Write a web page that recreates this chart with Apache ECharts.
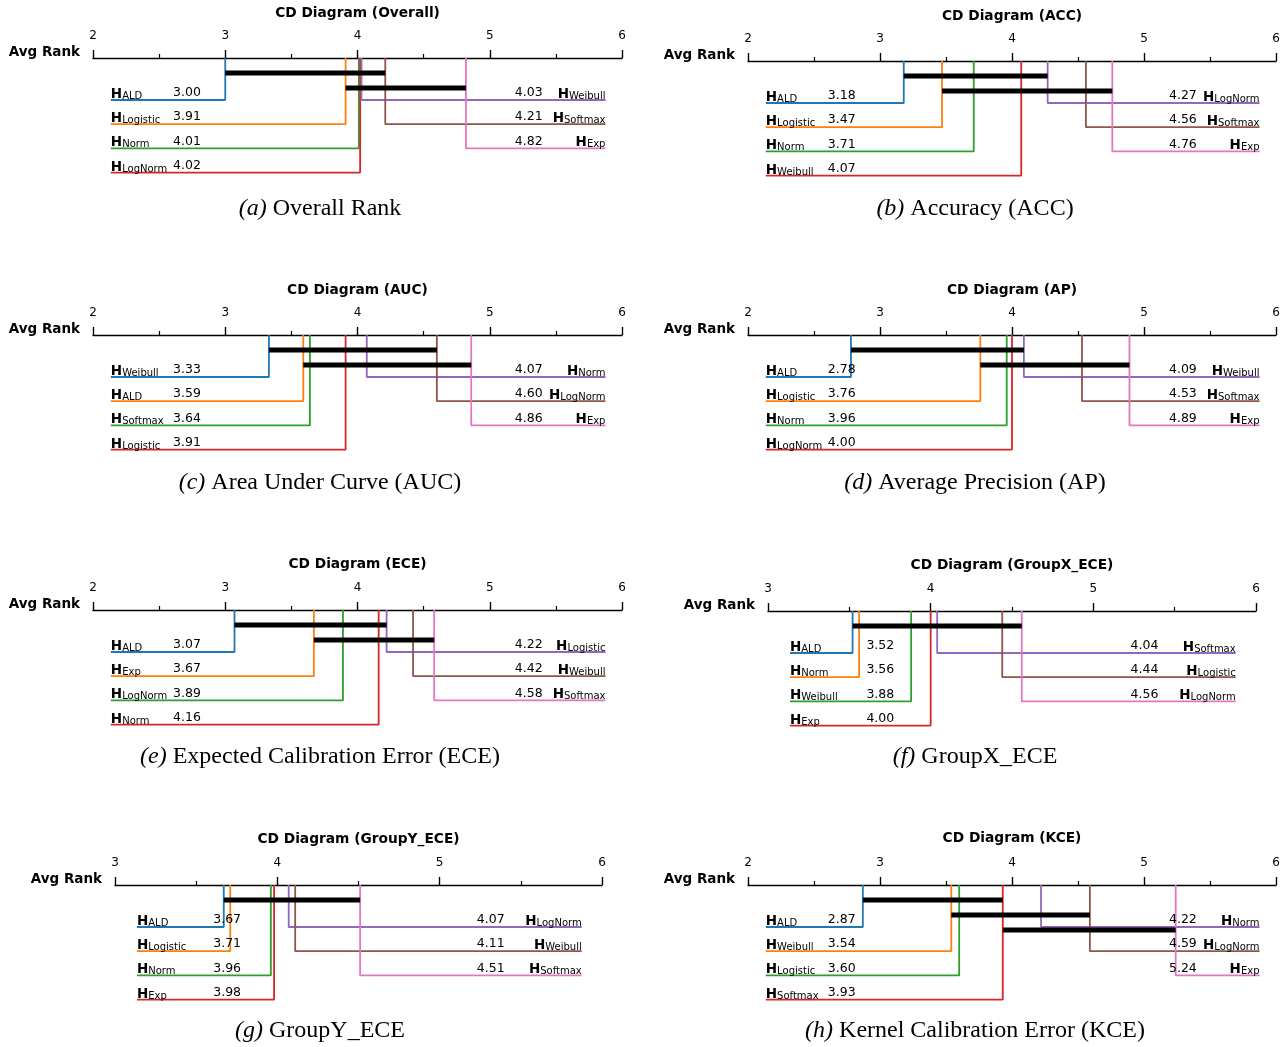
<!DOCTYPE html>
<html>
<head>
<meta charset="utf-8">
<title>CD Diagrams</title>
<script src="https://cdn.jsdelivr.net/npm/echarts@6/dist/echarts.min.js"></script>
<style>
html,body{margin:0;padding:0;background:#fff;}
#main{width:1288px;height:1047px;}
</style>
</head>
<body>
<div id="main"></div>
<script>
// average ranks, sorted ascending; cliques are [first, last] indexes into the sorted list
var overallNames = ['ALD','Logistic','Norm','LogNorm','Weibull','Softmax','Exp'];
var overallRanks = [3.00, 3.91, 4.01, 4.02, 4.03, 4.21, 4.82];
var overallCliques = [[0,5],[1,6]];

var accNames = ['ALD','Logistic','Norm','Weibull','LogNorm','Softmax','Exp'];
var accRanks = [3.18, 3.47, 3.71, 4.07, 4.27, 4.56, 4.76];
var accCliques = [[0,4],[1,6]];

var aucNames = ['Weibull','ALD','Softmax','Logistic','Norm','LogNorm','Exp'];
var aucRanks = [3.33, 3.59, 3.64, 3.91, 4.07, 4.60, 4.86];
var aucCliques = [[0,5],[1,6]];

var apNames = ['ALD','Logistic','Norm','LogNorm','Weibull','Softmax','Exp'];
var apRanks = [2.78, 3.76, 3.96, 4.00, 4.09, 4.53, 4.89];
var apCliques = [[0,4],[1,6]];

var eceNames = ['ALD','Exp','LogNorm','Norm','Logistic','Weibull','Softmax'];
var eceRanks = [3.07, 3.67, 3.89, 4.16, 4.22, 4.42, 4.58];
var eceCliques = [[0,4],[1,6]];

var gxNames = ['ALD','Norm','Weibull','Exp','Softmax','Logistic','LogNorm'];
var gxRanks = [3.52, 3.56, 3.88, 4.00, 4.04, 4.44, 4.56];
var gxCliques = [[0,6]];

var gyNames = ['ALD','Logistic','Norm','Exp','LogNorm','Weibull','Softmax'];
var gyRanks = [3.67, 3.71, 3.96, 3.98, 4.07, 4.11, 4.51];
var gyCliques = [[0,6]];

var kceNames = ['ALD','Weibull','Logistic','Softmax','Norm','LogNorm','Exp'];
var kceRanks = [2.87, 3.54, 3.60, 3.93, 4.22, 4.59, 5.24];
var kceCliques = [[0,3],[1,5],[3,6]];

var axisMins = [2, 2, 2, 2, 2, 3, 3, 2];
var axisMax = 6;
var titles = ['Overall','ACC','AUC','AP','ECE','GroupX_ECE','GroupY_ECE','KCE'];
var captionTags = ['(a)','(b)','(c)','(d)','(e)','(f)','(g)','(h)'];
var captionTexts = ['Overall Rank','Accuracy (ACC)','Area Under Curve (AUC)','Average Precision (AP)',
  'Expected Calibration Error (ECE)','GroupX_ECE','GroupY_ECE','Kernel Calibration Error (KCE)'];

var panels = [
  {names: overallNames, ranks: overallRanks, cliques: overallCliques},
  {names: accNames, ranks: accRanks, cliques: accCliques},
  {names: aucNames, ranks: aucRanks, cliques: aucCliques},
  {names: apNames, ranks: apRanks, cliques: apCliques},
  {names: eceNames, ranks: eceRanks, cliques: eceCliques},
  {names: gxNames, ranks: gxRanks, cliques: gxCliques},
  {names: gyNames, ranks: gyRanks, cliques: gyCliques},
  {names: kceNames, ranks: kceRanks, cliques: kceCliques}
];

// layout: axis pixel span, axis line y, title y, caption center
var layout = [
  {x0: 93,  x1: 622,  ay: 58,  ty: 13,  cx: 320, cy: 209},
  {x0: 748, x1: 1276, ay: 61,  ty: 16,  cx: 975, cy: 209},
  {x0: 93,  x1: 622,  ay: 335, ty: 290, cx: 320, cy: 483},
  {x0: 748, x1: 1276, ay: 335, ty: 290, cx: 975, cy: 483},
  {x0: 93,  x1: 622,  ay: 610, ty: 564, cx: 320, cy: 757},
  {x0: 768, x1: 1256, ay: 611, ty: 565, cx: 975, cy: 757},
  {x0: 115, x1: 602,  ay: 885, ty: 839, cx: 320, cy: 1031},
  {x0: 748, x1: 1276, ay: 885, ty: 838, cx: 975, cy: 1031}
];

var colors = ['#1f77b4','#ff7f0e','#2ca02c','#d62728','#9467bd','#8c564b','#e377c2'];
var FONT = '"DejaVu Sans", sans-serif';
var SERIF = '"Liberation Serif", "DejaVu Serif", serif';

var grids = [], xAxes = [], yAxes = [], series = [], graphics = [];

var nameRich = {
  h: {fontFamily: FONT, fontWeight: 'bold', fontSize: 13.5, color: '#000', lineHeight: 17, verticalAlign: 'bottom'},
  s: {fontFamily: FONT, fontSize: 10, color: '#000', lineHeight: 10, verticalAlign: 'bottom'}
};

panels.forEach(function (p, k) {
  var L = layout[k];
  var mn = axisMins[k];
  grids.push({left: L.x0, width: L.x1 - L.x0, top: L.ay, height: 130});
  xAxes.push({
    gridIndex: k, type: 'value', position: 'top', min: mn, max: axisMax, interval: 1,
    axisLine: {lineStyle: {color: '#000', width: 1.4}},
    axisTick: {length: 8, lineStyle: {color: '#000', width: 1.4}},
    minorTick: {show: true, splitNumber: 2, length: 4, lineStyle: {color: '#000', width: 1.2}},
    splitLine: {show: false},
    axisLabel: {margin: 16, fontFamily: FONT, fontSize: 12, color: '#000'}
  });
  yAxes.push({gridIndex: k, type: 'value', min: 0, max: 130, inverse: true, show: false});

  var n = p.ranks.length;
  var nLeft = Math.ceil(n / 2);
  var leftEnd = mn + 0.135, rightEnd = axisMax - 0.125;
  var labels = [];
  p.ranks.forEach(function (r, i) {
    var isLeft = i < nLeft;
    var row = isLeft ? i : i - nLeft;
    var y = 42 + 24.2 * row;
    var end = isLeft ? leftEnd : rightEnd;
    series.push({
      type: 'line', xAxisIndex: k, yAxisIndex: k, showSymbol: false, silent: true, z: 2,
      lineStyle: {color: colors[i], width: 1.8},
      data: [[r, 0], [r, y], [end, y]]
    });
    var nameTxt = '{h|H}{s|' + p.names[i] + '}';
    var valTxt = r.toFixed(2);
    if (isLeft) {
      labels.push({value: [leftEnd, y - 7], label: {position: 'right', formatter: nameTxt, rich: nameRich}});
      labels.push({value: [leftEnd + 0.47, y - 7], label: {position: 'right', formatter: valTxt}});
    } else {
      labels.push({value: [rightEnd, y - 7], label: {position: 'left', formatter: nameTxt, rich: nameRich}});
      labels.push({value: [rightEnd - 0.475, y - 7], label: {position: 'left', formatter: valTxt}});
    }
  });
  p.cliques.forEach(function (c, j) {
    var by = 15 + 15 * j;
    series.push({
      type: 'line', xAxisIndex: k, yAxisIndex: k, showSymbol: false, silent: true, z: 5,
      lineStyle: {color: '#000', width: 5, cap: 'butt'},
      data: [[p.ranks[c[0]], by], [p.ranks[c[1]], by]]
    });
  });
  series.push({
    type: 'scatter', xAxisIndex: k, yAxisIndex: k, symbolSize: 0, silent: true, z: 6,
    itemStyle: {opacity: 1},
    label: {show: true, distance: 0, fontFamily: FONT, fontSize: 12.5, color: '#000', opacity: 1},
    data: labels
  });

  graphics.push({
    type: 'text', x: (L.x0 + L.x1) / 2, y: L.ty,
    style: {text: 'CD Diagram (' + titles[k] + ')', font: 'bold 13.75px ' + FONT, fill: '#000',
      textAlign: 'center', textVerticalAlign: 'middle', align: 'center', verticalAlign: 'middle'}
  });
  graphics.push({
    type: 'text', x: L.x0 - 13, y: L.ay - 6,
    style: {text: 'Avg Rank', font: 'bold 13.5px ' + FONT, fill: '#000',
      textAlign: 'right', textVerticalAlign: 'middle', align: 'right', verticalAlign: 'middle'}
  });
  graphics.push({
    type: 'text', x: L.cx, y: L.cy,
    style: {
      text: '{i|' + captionTags[k] + '} ' + captionTexts[k],
      font: '24px ' + SERIF, fill: '#000',
      textAlign: 'center', textVerticalAlign: 'middle', align: 'center', verticalAlign: 'middle',
      rich: {i: {fontStyle: 'italic', fontFamily: SERIF, fontSize: 24}}
    }
  });
});

var chart = echarts.init(document.getElementById('main'), null, {renderer: 'canvas'});
chart.setOption({
  backgroundColor: '#fff',
  animation: false,
  grid: grids,
  xAxis: xAxes,
  yAxis: yAxes,
  series: series,
  graphic: {elements: graphics}
});
</script>
</body>
</html>
